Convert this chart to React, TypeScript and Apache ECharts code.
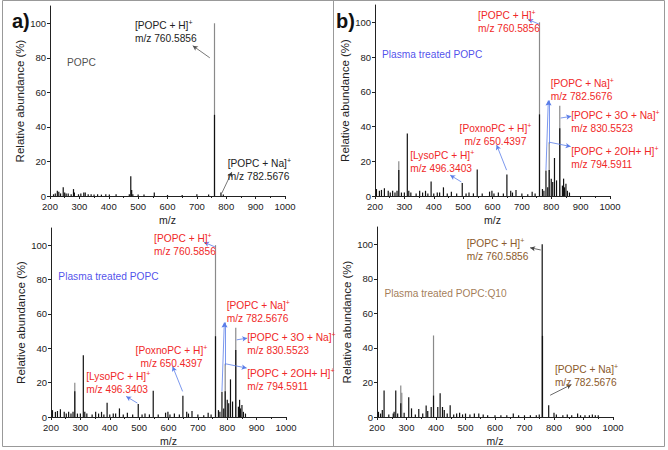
import React, { useEffect, useRef } from "react";
import * as echarts from "echarts";

// ---------- data ----------
const xTicks = [200, 300, 400, 500, 600, 700, 800, 900, 1000];
const yTicks = [0, 20, 40, 60, 80, 100];

// a) POPC
const popcGray: number[][] = [[760, 100]];
const popcBlack: number[][] = [
  [212, 1], [218, 1.5], [225, 3], [230, 2.5], [236, 1.5], [245, 5], [250, 2], [255, 1.5], [262, 1.5],
  [272, 1], [280, 4], [283, 2], [297, 1], [305, 1.5], [315, 2], [320, 2], [330, 1], [340, 1], [350, 0.8],
  [362, 1], [375, 0.8], [390, 1], [402, 0.8], [425, 1], [470, 1], [475, 11.5], [478, 3.5], [482, 1],
  [500, 0.8], [520, 0.8], [555, 2], [600, 0.6], [650, 0.6], [700, 1], [740, 0.8], [760, 47], [782, 2], [790, 0.8],
];

// Plasma treated POPC (shown twice)
const plasmaGray: number[][] = [[281, 20], [760, 100], [793, 31], [829, 52]];
const plasmaBlack: number[][] = [
  [205, 4], [215, 3], [222, 3.5], [232, 4.5], [245, 3], [252, 2], [260, 3], [268, 2], [275, 3], [281, 15],
  [290, 2], [300, 2], [310, 36], [315, 3], [322, 2], [340, 1.5], [352, 3], [362, 2], [372, 3], [380, 1.5],
  [391, 8.3], [400, 1.5], [412, 2], [420, 2], [433, 5], [446, 1.5], [460, 2.5], [478, 1.5], [497, 7.5],
  [510, 1.5], [520, 2], [535, 1.5], [548, 15.3], [565, 1.5], [590, 2.5], [598, 3], [605, 1.5], [620, 2],
  [637, 1.5], [649, 12.4], [662, 3], [668, 2], [680, 3.5], [700, 1.5], [720, 1], [735, 2.5], [745, 1.5],
  [760, 47], [770, 4], [775, 3], [782, 14.7], [788, 5], [793, 15], [800, 10], [805, 8], [811, 21.9],
  [818, 9], [829, 39], [838, 6], [842, 10], [845, 5], [850, 7], [855, 3], [862, 2],
];

// Plasma treated POPC:Q10
const q10Gray: number[][] = [[280.6, 18.2], [284, 14], [391.6, 47.2]];
const q10Black: number[][] = [
  [205, 3], [212, 2], [218, 4], [224, 15.3], [240, 1.5], [255, 2], [258, 3], [263.6, 15.3], [270, 2],
  [280.6, 8], [292, 2.5], [307.6, 11.4], [317, 5], [330, 1.5], [341.6, 4.7], [355, 2], [366.6, 6.6],
  [372, 3.5], [383.7, 5.8], [391.6, 12.4], [406, 5.8], [414, 13.8], [422, 5.8], [428, 4], [438, 2],
  [448, 6.8], [460, 1.5], [470, 2], [480, 2.5], [490, 1.5], [500, 2], [515, 1.5], [530, 2], [545, 2],
  [560, 1.5], [575, 1], [600, 1], [620, 1], [640, 1], [662, 2], [680, 1], [700, 1], [720, 1], [740, 1],
  [750, 1.5], [760, 100], [761, 47], [782, 6.8], [800, 2.5], [808, 1.5], [830, 1], [845, 1.5], [860, 1],
  [880, 2], [890, 1], [905, 1], [920, 1], [930, 1.5], [940, 1], [950, 1],
];

// annotations: [line1, superscript, line2, x, y, align]
const popcLabels: any[][] = [
  ["[POPC + H]", "+", "m/z 760.5856", 489, 95, "left"],
  ["[POPC + Na]", "+", "m/z 782.5676", 805, 15, "left"],
];
const popcArrows: number[][][] = [
  [[744, 80], [686, 87]],
  [[785, 1.7], [819, 13.9]],
];
const plasmaLabels: any[][] = [
  ["[POPC + H]", "+", "m/z 760.5856", 551, 100, "left"],
  ["[POPC + Na]", "+", "m/z 782.5676", 798, 61.3, "left"],
  ["[POPC + 3O + Na]", "+", "m/z 830.5523", 868, 42.7, "left"],
  ["[POPC + 2OH+ H]", "+", "m/z 794.5911", 868, 21.7, "left"],
  ["[PoxnoPC + H]", "+", "m/z 650.4397", 610, 35, "center"],
  ["[LysoPC + H]", "+", "m/z 496.3403", 320, 19.6, "left"],
];
const plasmaArrows: number[][][] = [
  [[758, 99], [721, 101.7]],
  [[782, 15], [790, 55]],
  [[793, 30], [792, 55]],
  [[793, 31], [866, 28.5]],
  [[832, 44.9], [868, 45.9]],
  [[648, 14.9], [614, 29.4]],
  [[494, 8.1], [456, 12]],
];
const q10Labels: any[][] = [
  ["[POPC + H]", "+", "m/z 760.5856", 504, 96.7, "left"],
  ["[POPC + Na]", "+", "m/z 782.5676", 803, 23.7, "left"],
];
const q10Arrows: number[][][] = [
  [[755, 96.7], [719, 98]],
  [[787, 12.6], [859, 18.8]],
];

const FONT = "Liberation Sans, Arial, sans-serif";

export default function App() {
  const ref = useRef<HTMLDivElement>(null);
  useEffect(() => {
    document.body.style.margin = "0";
    const chart = echarts.init(ref.current!, null, { renderer: "svg" });

    const grids = [
      { left: 50, top: 6, width: 235, height: 190 },
      { left: 51, top: 228, width: 235, height: 189 },
      { left: 375, top: 5, width: 235, height: 191 },
      { left: 377, top: 227, width: 236, height: 190 },
    ];

    const xAxes = grids.map((_, i) => ({
      type: "value",
      gridIndex: i,
      min: 200,
      max: 1000,
      interval: 100,
      name: "m/z",
      nameLocation: "middle",
      nameGap: 18,
      nameTextStyle: { fontSize: 10.5, color: "#222", fontFamily: FONT },
      axisLine: { show: true, lineStyle: { color: "#222", width: 1 } },
      axisTick: { show: true, length: 3, lineStyle: { color: "#222" } },
      minorTick: { show: true, splitNumber: 2, length: 2, lineStyle: { color: "#222" } },
      axisLabel: {
        fontSize: 9.5, color: "#222", margin: 5, fontFamily: FONT, customValues: xTicks,
        formatter: (v: number) => String(v),
      },
      splitLine: { show: false },
    }));

    const yAxes = grids.map((_, i) => ({
      type: "value",
      gridIndex: i,
      min: 0,
      max: 110,
      interval: 20,
      name: "Relative abundance (%)",
      nameLocation: "middle",
      nameGap: 19,
      nameTextStyle: { fontSize: 11.5, color: "#222", fontFamily: FONT },
      axisLine: { show: true, lineStyle: { color: "#222", width: 1 } },
      axisTick: { show: true, length: 3, lineStyle: { color: "#222" }, customValues: yTicks },
      axisLabel: {
        fontSize: 9.5, color: "#222", margin: 4, fontFamily: FONT, customValues: yTicks,
        formatter: (v: number) => String(v),
      },
      splitLine: { show: false },
    }));

    const mkLabels = (labels: any[][], color: string) =>
      labels.map((l) => ({
        coord: [l[3], l[4]],
        symbol: "circle",
        symbolSize: 0,
        label: {
          show: true,
          position: "inside",
          align: l[5],
          verticalAlign: "middle",
          formatter: `{a|${l[0]}}{s|${l[1]}}\n{a|${l[2]}}`,
          rich: {
            a: { fontSize: 10.2, color, fontFamily: FONT, lineHeight: 13 },
            s: { fontSize: 7, color, fontFamily: FONT, lineHeight: 13, verticalAlign: "top", padding: [0, 0, 6, 0] },
          },
        },
      }));

    const mkArrows = (arrows: number[][][]) => arrows.map((a) => [{ coord: a[0] }, { coord: a[1] }]);

    const panels = [
      { gray: popcGray, black: popcBlack, labels: popcLabels, arrows: popcArrows, tc: "#222", ac: "#555" },
      { gray: plasmaGray, black: plasmaBlack, labels: plasmaLabels, arrows: plasmaArrows, tc: "#f02828", ac: "#5a7de8" },
      { gray: plasmaGray, black: plasmaBlack, labels: plasmaLabels, arrows: plasmaArrows, tc: "#f02828", ac: "#5a7de8" },
      { gray: q10Gray, black: q10Black, labels: q10Labels, arrows: q10Arrows, tc: "#8b5a2b", ac: "#444" },
    ];

    const series: any[] = [];
    panels.forEach((p, i) => {
      series.push({
        type: "bar",
        xAxisIndex: i,
        yAxisIndex: i,
        data: p.gray,
        barWidth: 1.2,
        barGap: "-100%",
        itemStyle: { color: "#8a8a8a" },
        silent: true,
      });
      series.push({
        type: "bar",
        xAxisIndex: i,
        yAxisIndex: i,
        data: p.black,
        barWidth: 1.2,
        barGap: "-100%",
        itemStyle: { color: "#111" },
        silent: true,
        markPoint: { silent: true, data: mkLabels(p.labels, p.tc) },
        markLine: {
          silent: true,
          symbol: ["none", "arrow"],
          symbolSize: [4, 5],
          label: { show: false },
          lineStyle: { color: p.ac, width: 0.8, type: "solid" },
          data: mkArrows(p.arrows),
        },
      });
    });

    const sampleNames = [
      { text: "POPC", color: "#222", coord: [258, 77.5], grid: 0 },
      { text: "Plasma treated POPC", color: "#2323e6", coord: [225, 81.7], grid: 1 },
      { text: "Plasma treated POPC", color: "#2323e6", coord: [224, 81.7], grid: 2 },
      { text: "Plasma treated POPC:Q10", color: "#8b5a2b", coord: [225, 71.6], grid: 3 },
    ];
    sampleNames.forEach((s) => {
      series.push({
        type: "scatter",
        xAxisIndex: s.grid,
        yAxisIndex: s.grid,
        data: [s.coord],
        symbolSize: 0,
        silent: true,
        label: {
          show: true,
          position: "inside",
          align: "left",
          verticalAlign: "middle",
          formatter: s.text,
          fontSize: 10.2,
          color: s.color,
          fontFamily: FONT,
        },
      });
    });

    chart.setOption({
      animation: false,
      backgroundColor: "#fff",
      grid: grids,
      xAxis: xAxes,
      yAxis: yAxes,
      series,
      graphic: [
        { type: "rect", shape: { x: 2.5, y: 0.5, width: 662, height: 446 }, style: { fill: "none", stroke: "#999", lineWidth: 1 }, silent: true },
        { type: "line", shape: { x1: 333.5, y1: 0, x2: 333.5, y2: 447 }, style: { stroke: "#999", lineWidth: 1 }, silent: true },
        { type: "text", left: 12, top: 11, style: { text: "a)", fontSize: 20, fontWeight: "bold", fill: "#111", fontFamily: FONT } },
        { type: "text", left: 336, top: 11, style: { text: "b)", fontSize: 20, fontWeight: "bold", fill: "#111", fontFamily: FONT } },
      ],
    });
    return () => chart.dispose();
  }, []);
  return <div ref={ref} style={{ position: "fixed", left: 0, top: 0, width: 668, height: 450 }} />;
}
